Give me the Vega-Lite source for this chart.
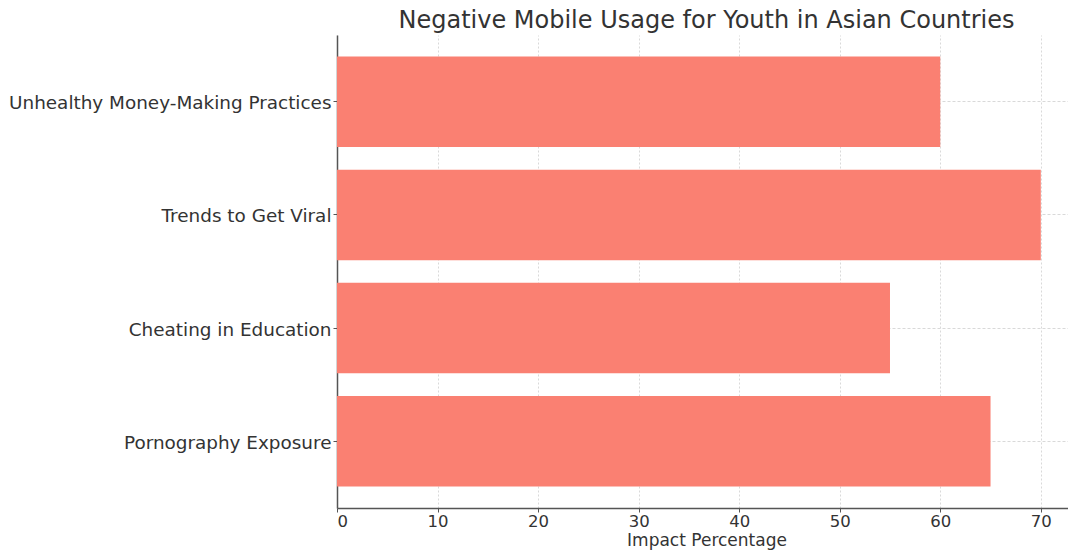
{
  "$schema": "https://vega.github.io/schema/vega-lite/v6.json",
  "autosize": {"type": "none"},
  "padding": {"left": 337, "top": 35, "right": 0, "bottom": 46},
  "width": 739,
  "height": 473,
  "background": "white",
  "title": {
    "text": "Negative Mobile Usage for Youth in Asian Countries",
    "font": "DejaVu Sans",
    "fontSize": 24,
    "fontWeight": "normal",
    "color": "#333333",
    "anchor": "middle",
    "offset": 2
  },
  "data": {
    "values": [
      {"category": "Pornography Exposure", "impact": 65},
      {"category": "Cheating in Education", "impact": 55},
      {"category": "Trends to Get Viral", "impact": 70},
      {"category": "Unhealthy Money-Making Practices", "impact": 60}
    ]
  },
  "mark": {"type": "bar", "color": "#FA8072"},
  "encoding": {
    "y": {
      "field": "category",
      "type": "nominal",
      "sort": ["Unhealthy Money-Making Practices", "Trends to Get Viral", "Cheating in Education", "Pornography Exposure"],
      "scale": {"paddingInner": 0.2, "paddingOuter": 0.19},
      "axis": {
        "title": null,
        "labelFont": "DejaVu Sans",
        "labelFontSize": 18.4,
        "labelColor": "#333333",
        "labelPadding": 2,
        "labelLimit": 500,
        "labelOffset": 1.5,
        "tickSize": 4,
        "tickColor": "#555",
        "domainColor": "#555",
        "domainWidth": 1.5,
        "grid": true,
        "gridColor": "#d9d9d9",
        "gridDash": [3, 2],
        "gridWidth": 1
      }
    },
    "x": {
      "field": "impact",
      "type": "quantitative",
      "scale": {"domain": [0, 73.5], "nice": false},
      "axis": {
        "values": [0, 10, 20, 30, 40, 50, 60, 70],
        "title": "Impact Percentage",
        "titleFont": "DejaVu Sans",
        "titleFontSize": 17,
        "titleFontWeight": "normal",
        "titleColor": "#333333",
        "titlePadding": 3,
        "labelFont": "DejaVu Sans",
        "labelFontSize": 16.5,
        "labelColor": "#333333",
        "labelPadding": 1,
        "tickSize": 4,
        "tickColor": "#555",
        "domainColor": "#555",
        "domainWidth": 1.5,
        "grid": true,
        "gridColor": "#d9d9d9",
        "gridDash": [2, 2],
        "gridWidth": 1
      }
    }
  },
  "config": {"view": {"stroke": null}}
}
